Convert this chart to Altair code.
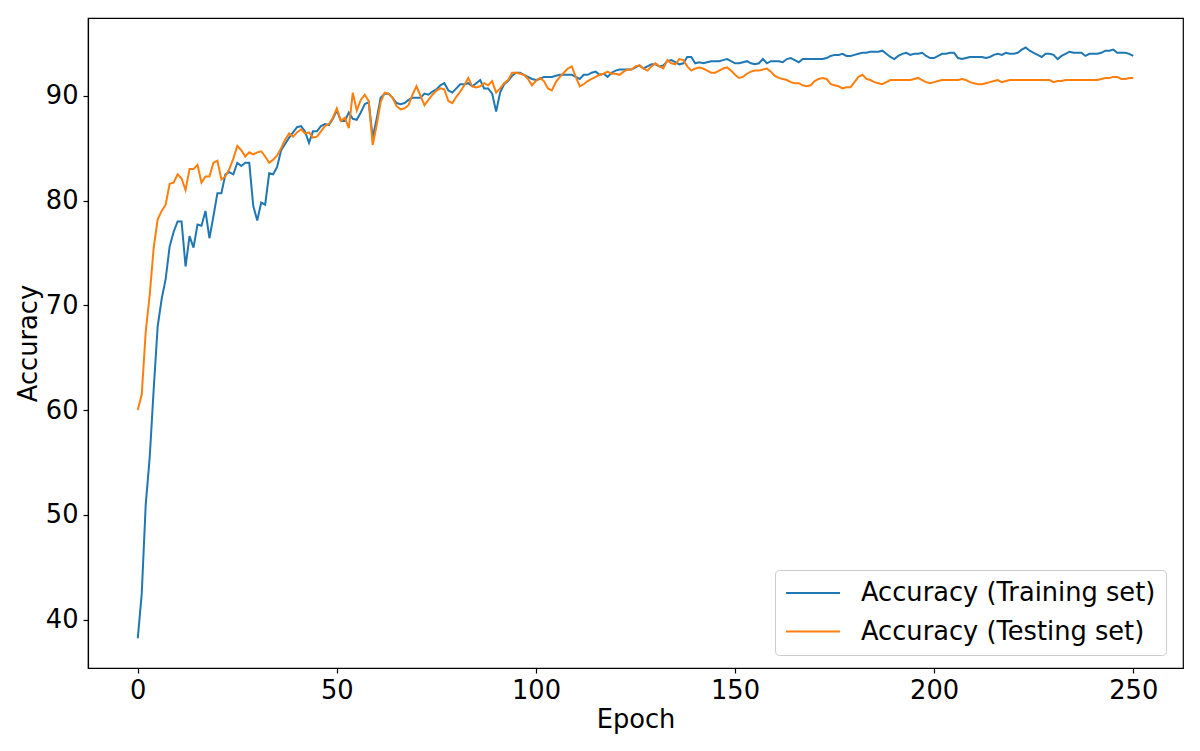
import altair as alt
import pandas as pd

train_acc = [
    38.2, 42.5, 51.0, 55.5, 62.0, 68.0, 70.6, 72.5, 75.6, 77.0,
    78.0, 78.0, 73.7, 76.6, 75.5, 77.7, 77.6, 79.0, 76.4, 78.5,
    80.7, 80.7, 82.5, 82.7, 82.5, 83.6, 83.3, 83.6, 83.6, 79.5,
    78.1, 79.8, 79.6, 82.6, 82.5, 83.2, 84.8, 85.4, 86.0, 86.5,
    87.0, 87.1, 86.6, 85.5, 86.6, 86.6, 87.1, 87.3, 87.2, 87.8,
    88.6, 87.6, 87.6, 88.4, 87.8, 87.7, 88.4, 89.2, 89.4, 86.0,
    87.8, 89.8, 90.2, 90.2, 89.8, 89.3, 89.2, 89.3, 89.6, 89.8,
    89.8, 89.8, 90.2, 90.1, 90.4, 90.6, 91.0, 91.2, 90.5, 90.3,
    90.7, 91.1, 91.1, 91.2, 90.9, 91.2, 91.5, 90.7, 90.7, 90.2,
    88.5, 90.3, 91.1, 91.4, 91.9, 92.2, 92.2, 92.0, 91.8, 91.6,
    91.5, 91.6, 91.8, 91.8, 91.8, 91.9, 92.0, 92.0, 92.0, 92.0,
    91.8, 91.6, 92.0, 92.0, 92.2, 92.3, 92.0, 92.1, 91.8, 92.2,
    92.4, 92.5, 92.5, 92.5, 92.5, 92.7, 92.9, 92.6, 92.8, 93.0,
    93.0, 92.8, 92.9, 93.3, 93.4, 93.2, 93.0, 93.1, 93.7, 93.7,
    93.1, 93.2, 93.1, 93.2, 93.3, 93.3, 93.3, 93.4, 93.5, 93.3,
    93.1, 93.1, 93.2, 93.3, 93.1, 93.0, 93.1, 93.5, 93.1, 93.3,
    93.3, 93.3, 93.2, 93.5, 93.6, 93.4, 93.2, 93.5, 93.5, 93.5,
    93.5, 93.5, 93.5, 93.6, 93.8, 93.9, 93.9, 94.0, 93.8, 93.8,
    93.9, 94.0, 94.1, 94.1, 94.2, 94.2, 94.2, 94.3, 94.0, 93.7,
    93.5, 93.8, 94.0, 94.1, 93.9, 94.0, 94.0, 94.1, 93.8, 93.6,
    93.6, 93.8, 94.0, 94.0, 94.1, 94.1, 93.6, 93.5, 93.6, 93.7,
    93.7, 93.7, 93.7, 93.6, 93.7, 93.9, 94.0, 93.9, 94.1, 94.0,
    94.0, 94.1, 94.4, 94.6, 94.3, 94.1, 93.9, 93.7, 94.0, 94.0,
    93.9, 93.5, 93.8, 94.0, 94.2, 94.1, 94.1, 94.1, 93.8, 94.0,
    94.0, 94.0, 94.1, 94.3, 94.3, 94.4, 94.1, 94.1, 94.1, 94.0,
    93.8,
]

test_acc = [
    60.0, 61.5, 67.5, 71.0, 75.5, 78.2, 79.0, 79.6, 81.6, 81.7,
    82.5, 82.1, 81.0, 83.0, 83.0, 83.4, 81.7, 82.3, 82.3, 83.6,
    83.8, 82.0, 82.3, 83.0, 84.0, 85.2, 84.8, 84.2, 84.6, 84.4,
    84.6, 84.7, 84.2, 83.6, 83.9, 84.3, 85.0, 85.8, 86.4, 86.1,
    86.5, 86.8, 86.4, 86.5, 86.0, 86.1, 86.6, 87.1, 87.3, 87.9,
    88.8, 87.6, 87.9, 86.9, 90.3, 88.6, 89.6, 90.1, 89.5, 85.3,
    87.2, 89.4, 90.3, 90.2, 89.8, 89.0, 88.7, 88.8, 89.1, 90.1,
    90.9, 90.0, 89.1, 89.6, 90.1, 90.5, 90.7, 90.6, 89.5, 89.3,
    89.9, 90.4, 91.0, 91.7, 90.9, 90.8, 90.9, 91.2, 91.0, 91.4,
    90.3, 90.7, 91.2, 91.5, 92.2, 92.2, 92.1, 92.0, 91.6, 91.0,
    91.4, 91.7, 91.4, 90.7, 90.5, 91.3, 91.8, 92.2, 92.6, 92.8,
    91.8, 90.9, 91.1, 91.4, 91.6, 91.8, 92.0, 92.1, 92.3, 92.1,
    92.1, 92.0, 92.3, 92.5, 92.5, 92.8, 92.9, 92.6, 92.4, 92.8,
    93.1, 92.8, 92.6, 93.4, 93.1, 93.0, 93.5, 93.4, 92.8, 92.4,
    92.6, 92.7, 92.6, 92.4, 92.2, 92.2, 92.4, 92.6, 92.7, 92.4,
    92.0, 91.7, 91.8, 92.1, 92.3, 92.4, 92.4, 92.5, 92.6, 92.3,
    91.9, 91.7, 91.6, 91.5, 91.3, 91.2, 91.2, 91.0, 90.9, 91.0,
    91.4, 91.6, 91.7, 91.6, 91.1, 91.0, 90.9, 90.7, 90.8, 90.8,
    91.3, 91.8, 92.0, 91.6, 91.5, 91.3, 91.2, 91.1, 91.3, 91.5,
    91.5, 91.5, 91.5, 91.5, 91.5, 91.6, 91.7, 91.5, 91.3, 91.2,
    91.3, 91.4, 91.5, 91.5, 91.5, 91.5, 91.5, 91.6, 91.5, 91.3,
    91.2, 91.1, 91.1, 91.2, 91.3, 91.4, 91.5, 91.3, 91.4, 91.5,
    91.5, 91.5, 91.5, 91.5, 91.5, 91.5, 91.5, 91.5, 91.5, 91.5,
    91.3, 91.4, 91.4, 91.5, 91.5, 91.5, 91.5, 91.5, 91.5, 91.5,
    91.5, 91.5, 91.6, 91.7, 91.7, 91.8, 91.8, 91.6, 91.6, 91.7,
    91.7,
]

series_names = ["Accuracy (Training set)", "Accuracy (Testing set)"]
series_colors = ["#1f77b4", "#ff7f0e"]
x_ticks = [0, 50, 100, 150, 200, 250]
y_ticks = [40, 50, 60, 70, 80, 90]

df_train = pd.DataFrame({"Epoch": list(range(len(train_acc))), "Accuracy": train_acc,
                         "series": series_names[0]})
df_test = pd.DataFrame({"Epoch": list(range(len(test_acc))), "Accuracy": test_acc,
                        "series": series_names[1]})

FONT = "DejaVu Sans"
FS = 25.7

x_enc = alt.X("Epoch:Q", scale=alt.Scale(domain=[-12.5, 262.5], nice=False, zero=False),
              axis=alt.Axis(values=x_ticks, title="Epoch", format="d"))
y_enc = alt.Y("Accuracy:Q", scale=alt.Scale(domain=[35.38, 97.42], nice=False, zero=False),
              axis=alt.Axis(values=y_ticks, title="Accuracy", format="d"))
color_enc = alt.Color("series:N",
                      scale=alt.Scale(domain=series_names, range=series_colors),
                      legend=alt.Legend(title=None, orient="none", legendX=687, legendY=552))

line_train = alt.Chart(df_train).mark_line(strokeWidth=2).encode(x=x_enc, y=y_enc, color=color_enc)
line_test = alt.Chart(df_test).mark_line(strokeWidth=2).encode(x=x_enc, y=y_enc, color=color_enc)

chart = alt.layer(line_train, line_test).properties(
    width=1095, height=650,
    autosize=alt.AutoSizeParams(type="none"),
    padding={"left": 80, "top": 10, "right": 9, "bottom": 75},
).configure(
    font=FONT,
).configure_view(
    stroke="black", strokeWidth=1.2,
).configure_axis(
    labelFont=FONT, titleFont=FONT, labelFontSize=FS, titleFontSize=FS,
    titleFontWeight="normal", labelColor="black", titleColor="black",
    domainColor="black", tickColor="black", domainWidth=1.2, tickWidth=1.2,
    tickSize=5, labelPadding=5, grid=False,
).configure_axisX(
    titlePadding=5,
).configure_axisY(
    titlePadding=4,
).configure_legend(
    labelFont=FONT, labelFontSize=FS, labelColor="black", labelLimit=500,
    symbolType="M-1,0L3.5,0", symbolStrokeWidth=2, symbolSize=576,
    strokeColor="#cccccc", fillColor="white", cornerRadius=4, padding=10,
    labelOffset=50, rowPadding=12.5,
)

chart.save("out.html", embed_options={"renderer": "svg", "actions": False})
